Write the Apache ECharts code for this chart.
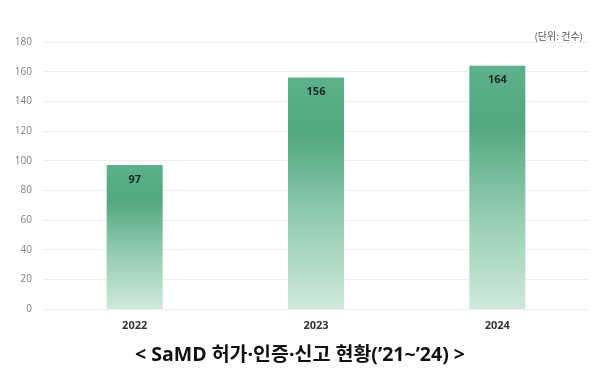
<!DOCTYPE html>
<html>
<head>
<meta charset="utf-8">
<script src="https://cdn.jsdelivr.net/npm/echarts@6/dist/echarts.min.js"></script>
<style>
  html, body { margin: 0; padding: 0; background: #fff; }
  #chart { width: 600px; height: 376px; }
</style>
</head>
<body>
<div id="chart"></div>
<script>
var years = ["2022", "2023", "2024"];
var counts = [97, 156, 164];

var chart = echarts.init(document.getElementById("chart"));

var option = {
  backgroundColor: "#ffffff",
  animation: false,
  title: [
    {
      text: "< SaMD 허가·인증·신고 현황(’21~’24) >",
      left: "center",
      top: 341,
      textStyle: {
        fontFamily: "Open Sans, Noto Sans CJK KR",
        fontSize: 19.5,
        fontWeight: "bold",
        color: "#111111"
      }
    },
    {
      text: "(단위: 건수)",
      right: 12,
      top: 26,
      textStyle: {
        fontFamily: "Noto Sans CJK KR",
        fontSize: 10,
        fontWeight: "normal",
        color: "#555555"
      }
    }
  ],
  grid: {
    left: 44,
    right: 12,
    top: 42,
    bottom: 67
  },
  xAxis: {
    type: "category",
    data: years,
    axisLine: { show: false },
    axisTick: { show: false },
    axisLabel: {
      margin: 11,
      fontFamily: "Open Sans",
      fontSize: 11,
      fontWeight: "bold",
      color: "#333333"
    }
  },
  yAxis: {
    type: "value",
    min: 0,
    max: 180,
    interval: 20,
    axisLine: { show: false },
    axisTick: { show: false },
    axisLabel: {
      margin: 12,
      fontFamily: "Open Sans",
      fontSize: 10,
      color: "#808080"
    },
    splitLine: { lineStyle: { color: "#eeeeee", width: 1 } }
  },
  series: [
    {
      type: "bar",
      data: counts,
      barWidth: 56,
      itemStyle: {
        color: new echarts.graphic.LinearGradient(0, 0, 0, 1, [
          { offset: 0, color: "#5cb08a" },
          { offset: 0.25, color: "#52a880" },
          { offset: 0.6, color: "#92cbb0" },
          { offset: 1, color: "#cfe9dc" }
        ])
      },
      label: {
        show: true,
        position: "insideTop",
        distance: 9,
        fontFamily: "Open Sans",
        fontSize: 11,
        fontWeight: "bold",
        color: "#1b2a22"
      }
    }
  ]
};

chart.setOption(option);
</script>
</body>
</html>
